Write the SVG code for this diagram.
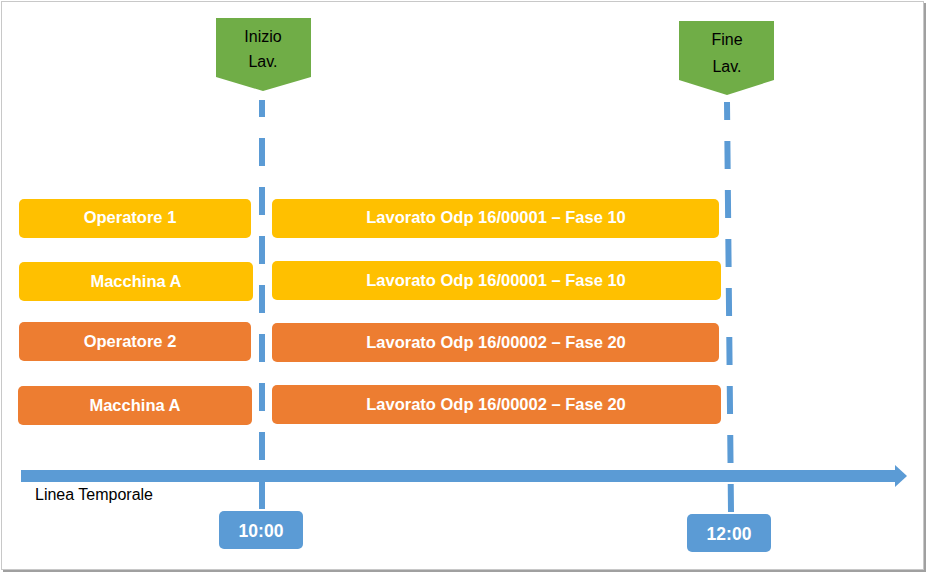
<svg xmlns="http://www.w3.org/2000/svg" width="927" height="574" viewBox="0 0 927 574">
  <style>
    .bar-text { font-family: "Liberation Sans", Arial, sans-serif; font-weight: bold; font-size: 16.5px; fill: #ffffff; text-anchor: middle; }
    .flag-text { font-family: "Liberation Sans", Arial, sans-serif; font-size: 16px; fill: #000000; text-anchor: middle; }
    .time-text { font-family: "Liberation Sans", Arial, sans-serif; font-weight: bold; font-size: 17.5px; fill: #ffffff; text-anchor: middle; }
    .label-text { font-family: "Liberation Sans", Arial, sans-serif; font-size: 16px; fill: #000000; }
    .yellow { fill: #FFC000; }
    .orange { fill: #ED7D31; }
    .green { fill: #70AD47; }
    .blue { fill: #5B9BD5; }
    .dash { stroke: #5B9BD5; stroke-width: 6; fill: none; stroke-dasharray: 28 21; }
  </style>

  <!-- frame -->
  <rect x="0" y="0" width="927" height="574" fill="#ffffff"/>
  <rect x="1.5" y="1.5" width="922" height="568" fill="none" stroke="#c8c8c8" stroke-width="1"/>
  <path d="M925 3 V571 H3" fill="none" stroke="#a0a0a0" stroke-width="2"/>

  <!-- connectors: dashed time markers and timeline -->
  <g id="connectors">
    <line class="dash" x1="262" y1="100" x2="262" y2="510" stroke-dashoffset="11"/>
    <line class="dash" x1="727" y1="102" x2="731" y2="512" stroke-dashoffset="10"/>
    <g id="timeline">
      <rect class="blue" x="21" y="470" width="876" height="12"/>
      <polygon class="blue" points="895,465 907,476 895,487"/>
    </g>
  </g>

  <g id="flag-inizio">
    <polygon class="green" points="216,18 311,18 311,77 263,91 216,77"/>
    <text class="flag-text" x="263" y="42">Inizio</text>
    <text class="flag-text" x="263" y="67">Lav.</text>
  </g>
  <g id="flag-fine">
    <polygon class="green" points="679,21 774,21 774,80 727,95 679,80"/>
    <text class="flag-text" x="727" y="45">Fine</text>
    <text class="flag-text" x="727" y="72">Lav.</text>
  </g>

  <g id="operatore1">
    <rect class="yellow" x="19" y="199" width="232" height="39" rx="5"/>
    <text class="bar-text" x="130" y="223">Operatore 1</text>
  </g>
  <g id="lavorato1">
    <rect class="yellow" x="272" y="199" width="447" height="39" rx="5"/>
    <text class="bar-text" x="496" y="223">Lavorato Odp 16/00001 – Fase 10</text>
  </g>

  <g id="macchina1">
    <rect class="yellow" x="19" y="262" width="234" height="39" rx="5"/>
    <text class="bar-text" x="136" y="287">Macchina A</text>
  </g>
  <g id="lavorato2">
    <rect class="yellow" x="272" y="261" width="449" height="39" rx="5"/>
    <text class="bar-text" x="496" y="286">Lavorato Odp 16/00001 – Fase 10</text>
  </g>

  <g id="operatore2">
    <rect class="orange" x="19" y="322" width="232" height="39" rx="5"/>
    <text class="bar-text" x="130" y="347">Operatore 2</text>
  </g>
  <g id="lavorato3">
    <rect class="orange" x="272" y="323" width="447" height="39" rx="5"/>
    <text class="bar-text" x="496" y="348">Lavorato Odp 16/00002 – Fase 20</text>
  </g>

  <g id="macchina2">
    <rect class="orange" x="18" y="386" width="234" height="39" rx="5"/>
    <text class="bar-text" x="135" y="411">Macchina A</text>
  </g>
  <g id="lavorato4">
    <rect class="orange" x="272" y="385" width="449" height="39" rx="5"/>
    <text class="bar-text" x="496" y="410">Lavorato Odp 16/00002 – Fase 20</text>
  </g>

  <g id="linea-temporale">
    <text class="label-text" x="35" y="500">Linea Temporale</text>
  </g>

  <g id="time-1000">
    <rect class="blue" x="219" y="511" width="84" height="38" rx="5"/>
    <text class="time-text" x="261" y="537">10:00</text>
  </g>
  <g id="time-1200">
    <rect class="blue" x="687" y="514" width="84" height="38" rx="5"/>
    <text class="time-text" x="729" y="540">12:00</text>
  </g>
</svg>
